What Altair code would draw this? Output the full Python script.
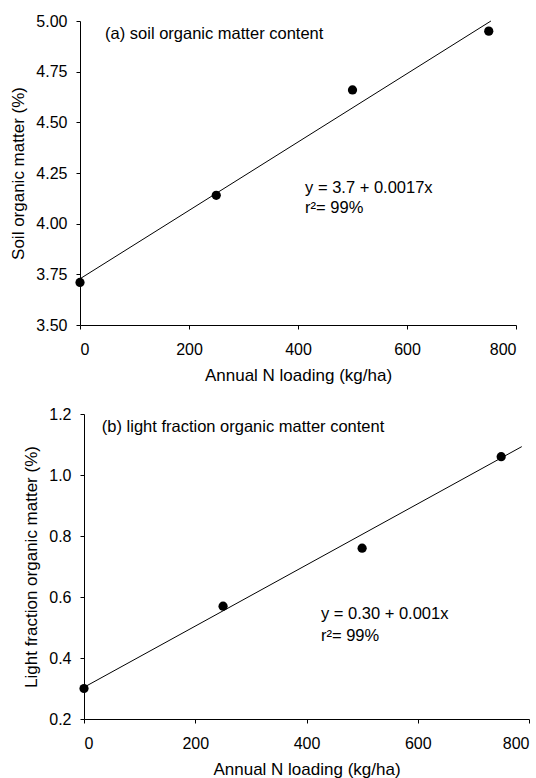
import altair as alt
import pandas as pd

# ---- data ----
n_loading = [0, 250, 500, 750]
soil_om = [3.71, 4.14, 4.66, 4.95]
lf_om = [0.30, 0.57, 0.76, 1.06]

fit_a_x = [0, 754]
fit_a_y = [3.728, 5.00]
fit_b_x = [0, 787]
fit_b_y = [0.304, 1.093]

x_ticks = [0, 200, 400, 600, 800]
ya_ticks = [3.50, 3.75, 4.00, 4.25, 4.50, 4.75, 5.00]
yb_ticks = [0.2, 0.4, 0.6, 0.8, 1.0, 1.2]

labels_a = ["(a) soil organic matter content", "y = 3.7 + 0.0017x", "r\u00b2= 99%"]
labels_a_x = [46, 413, 413]
labels_a_y = [4.936, 4.176, 4.077]

labels_b = ["(b) light fraction organic matter content", "y = 0.30 + 0.001x", "r\u00b2= 99%"]
labels_b_x = [32, 426, 426]
labels_b_y = [1.158, 0.545, 0.472]

FONT = "Liberation Sans"


def panel(pts_y, fit_x, fit_y, lab, lab_x, lab_y, ydom, yticks, yfmt, ytitle,
          width, height, xrange=None, yoffset=0):
    pts = pd.DataFrame({"x": n_loading, "y": pts_y})
    fit = pd.DataFrame({"x": fit_x, "y": fit_y})
    txt = pd.DataFrame({"x": lab_x, "y": lab_y, "t": lab})

    sx = dict(domain=[0, 800], nice=False, zero=False)
    if xrange is not None:
        sx["range"] = xrange
    xenc = alt.X("x:Q", scale=alt.Scale(**sx),
                 axis=alt.Axis(values=x_ticks, format="d",
                               title="Annual N loading (kg/ha)",
                               tickSize=4, labelPadding=12, titlePadding=10))
    yenc = alt.Y("y:Q", scale=alt.Scale(domain=ydom, nice=False, zero=False),
                 axis=alt.Axis(values=yticks, format=yfmt, title=ytitle,
                               tickSize=4, labelPadding=9, titlePadding=8,
                               offset=yoffset))

    line = alt.Chart(fit).mark_line(color="black", strokeWidth=1).encode(x=xenc, y=yenc)
    dots = alt.Chart(pts).mark_circle(color="black", opacity=1, size=85).encode(x=xenc, y=yenc)
    text = alt.Chart(txt).mark_text(align="left", baseline="middle", font=FONT,
                                    fontSize=16.5, color="black").encode(
        x=xenc, y=yenc, text="t:N")
    return alt.layer(line, dots, text).properties(width=width, height=height)


top = panel(soil_om, fit_a_x, fit_a_y, labels_a, labels_a_x, labels_a_y,
            [3.5, 5.0], ya_ticks, ".2f", "Soil organic matter (%)", 436, 304)
bottom = panel(lf_om, fit_b_x, fit_b_y, labels_b, labels_b_x, labels_b_y,
               [0.2, 1.2], yb_ticks, ".1f", "Light fraction organic matter (%)",
               449, 305, xrange=[4, 449], yoffset=-4)

chart = alt.vconcat(top, bottom, spacing=89, bounds="flush").properties(
    padding={"left": 9, "top": 13, "right": 5, "bottom": 5}
).configure_axis(
    labelFont=FONT, titleFont=FONT, labelFontSize=16, titleFontSize=17,
    titleFontWeight="normal", labelColor="black", titleColor="black",
    domainColor="black", tickColor="black", grid=False
).configure_view(stroke=None)

chart.save("out.html", embed_options={"renderer": "svg", "actions": False})
